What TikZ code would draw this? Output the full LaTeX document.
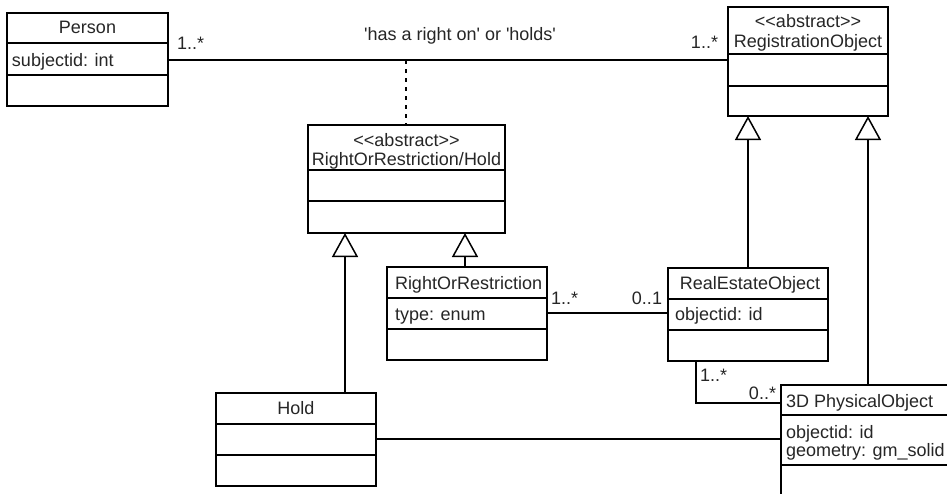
\documentclass[tikz,border=0pt]{standalone}
\usepackage{fontspec}
\setmainfont{Liberation Sans}
\usetikzlibrary{arrows.meta}
\begin{document}
\begin{tikzpicture}[x=1pt,y=-1pt,
  cls/.style={draw, line width=1.5pt, inner sep=0pt, outer sep=0pt},
  ln/.style={line width=1.5pt},
  gen/.style={line width=1.5pt, -{Triangle[open, length=24pt, width=26pt, fill=white]}},
  dots/.style={line width=1.5pt, dash pattern=on 4pt off 5pt},
  txt/.style={inner sep=0pt, outer sep=0pt, text height=13pt, text depth=0pt, font=\fontsize{18}{20}\selectfont, text=black!85},
  lt/.style={txt, anchor=west},
]
\clip (0,0) rectangle (947,493);
\fill[white] (0,0) rectangle (947,493);

% Person
\node[cls, minimum width=161pt, minimum height=93pt] (person) at (87.5,59.5) {};
\draw[ln] (person.west |- 0,43) -- (person.east |- 0,43);
\draw[ln] (person.west |- 0,75) -- (person.east |- 0,75);
\node[txt] (personT) at (87.5,27) {Person};
\node[lt] (personA) at (12,60) {subjectid: int};

% RegistrationObject
\node[cls, minimum width=160pt, minimum height=109pt] (reg) at (808,61.5) {};
\draw[ln] (reg.west |- 0,54) -- (reg.east |- 0,54);
\draw[ln] (reg.west |- 0,86) -- (reg.east |- 0,86);
\node[txt] (regS) at (808,21) {<{}<abstract>{}>};
\node[txt] (regT) at (808,41) {RegistrationObject};

% RightOrRestriction/Hold
\node[cls, minimum width=197pt, minimum height=108pt] (rrh) at (406.5,179) {};
\draw[ln] (rrh.west |- 0,170) -- (rrh.east |- 0,170);
\draw[ln] (rrh.west |- 0,201) -- (rrh.east |- 0,201);
\node[txt] (rrhS) at (406.5,140) {<{}<abstract>{}>};
\node[txt] (rrhT) at (406.5,159) {RightOrRestriction/Hold};

% RightOrRestriction
\node[cls, minimum width=160pt, minimum height=93pt] (ror) at (467,313.5) {};
\draw[ln] (ror.west |- 0,298) -- (ror.east |- 0,298);
\draw[ln] (ror.west |- 0,329) -- (ror.east |- 0,329);
\node[lt] (rorT) at (395,283) {RightOrRestriction};
\node[lt] (rorA) at (395,314) {type: enum};

% RealEstateObject
\node[cls, minimum width=160pt, minimum height=93pt] (reo) at (748,314.5) {};
\draw[ln] (reo.west |- 0,299) -- (reo.east |- 0,299);
\draw[ln] (reo.west |- 0,330) -- (reo.east |- 0,330);
\node[txt] (reoT) at (750,283) {RealEstateObject};
\node[lt] (reoA) at (675,314) {objectid: id};

% Hold
\node[cls, minimum width=160pt, minimum height=93pt] (hold) at (296,439.5) {};
\draw[ln] (hold.west |- 0,424) -- (hold.east |- 0,424);
\draw[ln] (hold.west |- 0,455) -- (hold.east |- 0,455);
\node[txt] (holdT) at (296,408) {Hold};

% 3D PhysicalObject (cut off by the picture edge)
\node[cls, minimum width=180pt, minimum height=140pt] (po) at (871,455) {};
\draw[ln] (po.west |- 0,415) -- (po.east |- 0,415);
\draw[ln] (po.west |- 0,465) -- (po.east |- 0,465);
\node[lt] (poT) at (786,401) {3D PhysicalObject};
\node[lt] (poA1) at (786,432) {objectid: id};
\node[lt] (poA2) at (786,450) {geometry: gm\_solid};

% association Person - RegistrationObject
\draw[ln] (person.east |- 0,60) -- (reg.west |- 0,60);
\node[txt] (assocL) at (460,34) {\textquotesingle has a right on\textquotesingle{} or \textquotesingle holds\textquotesingle};
\node[lt] (m1) at (177,43) {1..*};
\node[txt, anchor=east] (m2) at (718,42) {1..*};
\coordinate (dtop) at (406,60);
\draw[dots] (dtop) -- (rrh.north -| dtop);

% generalizations
\draw[gen] (hold.north -| 345,0) -- (rrh.south -| 345,0);
\draw[gen] (ror.north -| 465,0) -- (rrh.south -| 465,0);
\draw[gen] (reo.north -| 748,0) -- (reg.south -| 748,0);
\draw[gen] (po.north -| 868,0) -- (reg.south -| 868,0);

% RightOrRestriction - RealEstateObject
\draw[ln] (ror.east |- 0,313) -- (reo.west |- 0,313);
\node[lt] (m3) at (551,298) {1..*};
\node[txt, anchor=east] (m4) at (662,298) {0..1};

% RealEstateObject - 3D PhysicalObject
\draw[ln] (reo.south -| 696,0) |- (po.west |- 0,403);
\node[lt] (m5) at (700,375) {1..*};
\node[txt, anchor=east] (m6) at (776,393) {0..*};

% Hold - 3D PhysicalObject
\draw[ln] (hold.east |- 0,439) -- (po.west |- 0,439);
\end{tikzpicture}
\end{document}
